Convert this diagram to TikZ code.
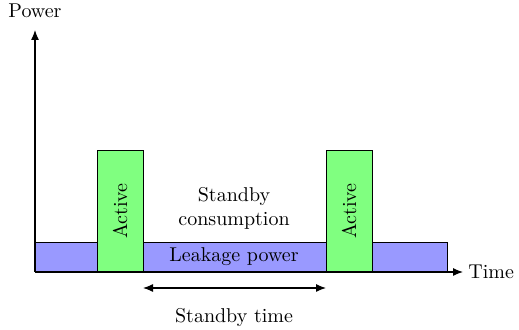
\documentclass[tikz,border=0pt]{standalone}
\usetikzlibrary{arrows.meta}
\begin{document}
\begin{tikzpicture}[x=0.5pt,y=0.5pt,
  axis/.style={-{Latex[length=5pt,width=4pt]},semithick},
  leak/.style={draw,fill=blue!40,thin},
  activebox/.style={draw,fill=green!50,thin},
  span/.style={{Latex[length=5pt,width=4pt]}-{Latex[length=5pt,width=4pt]},semithick}]
\useasboundingbox (0,0) rectangle (519,330);
% axes
\coordinate (o) at (35,58);
\coordinate (ytop) at (35,300);
\coordinate (xend) at (463,58);
% leakage band and active bursts
\draw[leak] (35,58) rectangle (447,88);
\draw[activebox] (97,58) rectangle (143,180);
\draw[activebox] (326,58) rectangle (372,180);
\draw[axis] (o) -- (ytop);
\draw[axis] (o) -- (xend);
\node[anchor=south] (power) at (35,305) {Power};
\node[anchor=west,inner sep=1pt] (time) at (466,58) {Time};
\node[rotate=90] (act1) at (120,119) {Active};
\node[rotate=90] (act2) at (349,119) {Active};
\node (leaklbl) at (234,73) {Leakage power};
\node[align=center] (standby) at (234,122) {Standby\\consumption};
% standby duration
\coordinate (sl) at (143,42);
\coordinate (sr) at (326,42);
\draw[span] (sl) -- (sr);
\node (stime) at (234,12) {Standby time};
\end{tikzpicture}
\end{document}
